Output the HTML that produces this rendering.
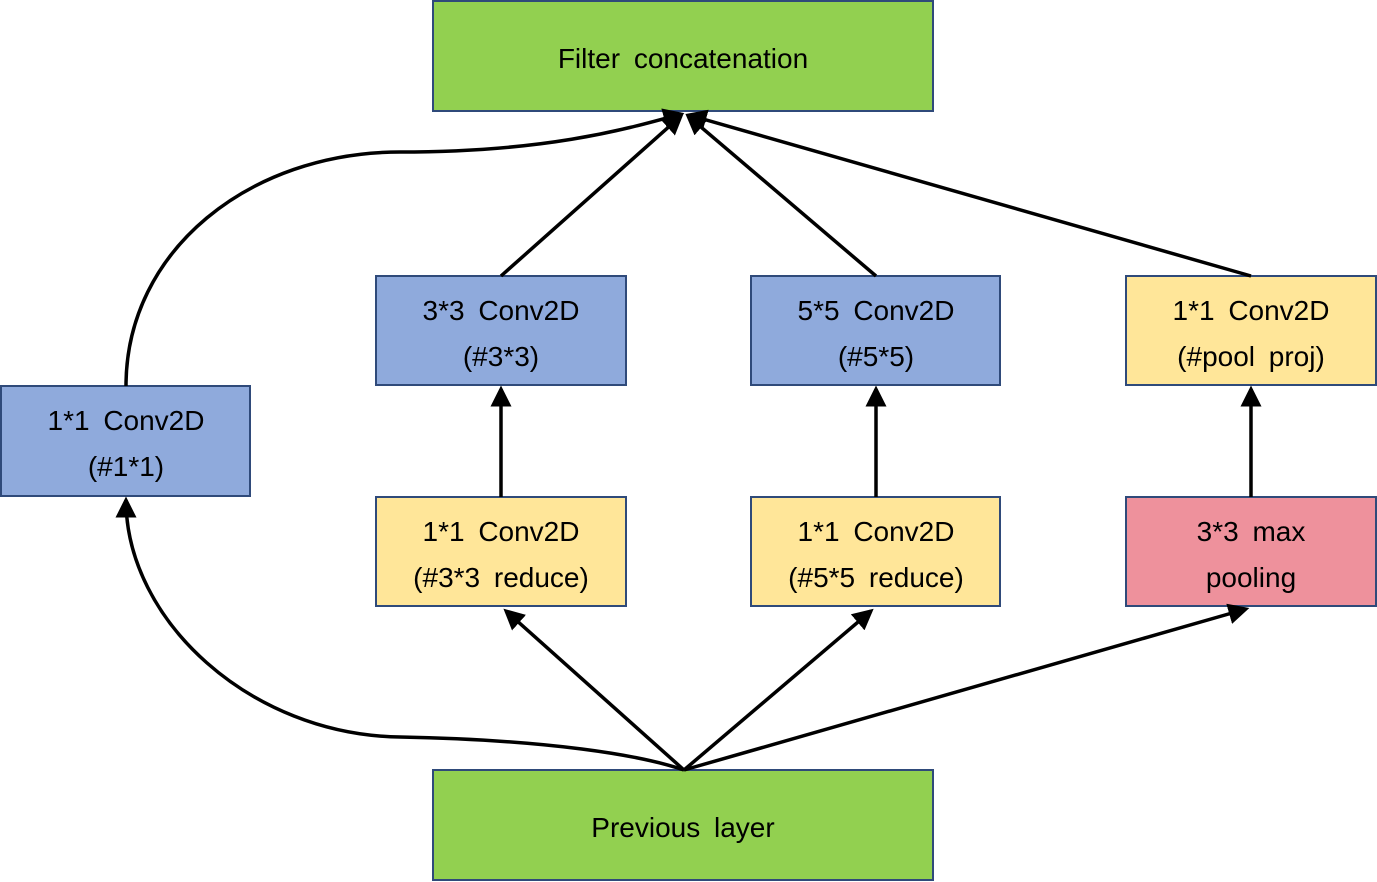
<!DOCTYPE html>
<html><head><meta charset="utf-8"><style>
html,body{margin:0;padding:0;background:#fff;}
svg{display:block;}
text{font-family:"Liberation Sans",sans-serif;font-size:28px;fill:#000;text-anchor:middle;word-spacing:6px;}
.b{stroke:#2f4a7a;stroke-width:2;}
</style></head><body>
<svg width="1377" height="882" viewBox="0 0 1377 882" xmlns="http://www.w3.org/2000/svg">
<defs>
<marker id="a" markerWidth="6" markerHeight="6" refX="5" refY="3" orient="auto" markerUnits="strokeWidth">
<path d="M0,0 L6,3 L0,6 z" fill="#000"/>
</marker>
</defs>
<rect class="b" x="433" y="1" width="500" height="110" fill="#92d050"/>
<text x="683" y="68">Filter concatenation</text>
<rect class="b" x="433" y="770" width="500" height="110" fill="#92d050"/>
<text x="683" y="837">Previous layer</text>

<rect class="b" x="1" y="386" width="249" height="110" fill="#8faadc"/>
<text x="126" y="430">1*1 Conv2D</text><text x="126" y="476">(#1*1)</text>

<rect class="b" x="376" y="276" width="250" height="109" fill="#8faadc"/>
<text x="501" y="320">3*3 Conv2D</text><text x="501" y="366">(#3*3)</text>
<rect class="b" x="751" y="276" width="249" height="109" fill="#8faadc"/>
<text x="876" y="320">5*5 Conv2D</text><text x="876" y="366">(#5*5)</text>
<rect class="b" x="1126" y="276" width="250" height="109" fill="#ffe699"/>
<text x="1251" y="320">1*1 Conv2D</text><text x="1251" y="366">(#pool proj)</text>

<rect class="b" x="376" y="497" width="250" height="109" fill="#ffe699"/>
<text x="501" y="541">1*1 Conv2D</text><text x="501" y="587">(#3*3 reduce)</text>
<rect class="b" x="751" y="497" width="249" height="109" fill="#ffe699"/>
<text x="876" y="541">1*1 Conv2D</text><text x="876" y="587">(#5*5 reduce)</text>
<rect class="b" x="1126" y="497" width="250" height="109" fill="#ee919c"/>
<text x="1251" y="541">3*3 max</text><text x="1251" y="587">pooling</text>

<g stroke="#000" stroke-width="3.5" fill="none" marker-end="url(#a)">
<path d="M126,386 C126,250 250,152 400,152 C550,152 630,128 681,114"/>
<path d="M501,276 L681,116"/>
<path d="M876,276 L688,116"/>
<path d="M1251,276 L689,115"/>
<path d="M501,497 L501,389"/>
<path d="M876,497 L876,389"/>
<path d="M1251,497 L1251,389"/>
<path d="M684,770 L506,611"/>
<path d="M684,770 L871,611"/>
<path d="M684,770 L1246,609"/>
<path d="M684,770 C640,755 550,740 400,737 C250,735 126,620 126,500"/>
</g>
</svg>
</body></html>
